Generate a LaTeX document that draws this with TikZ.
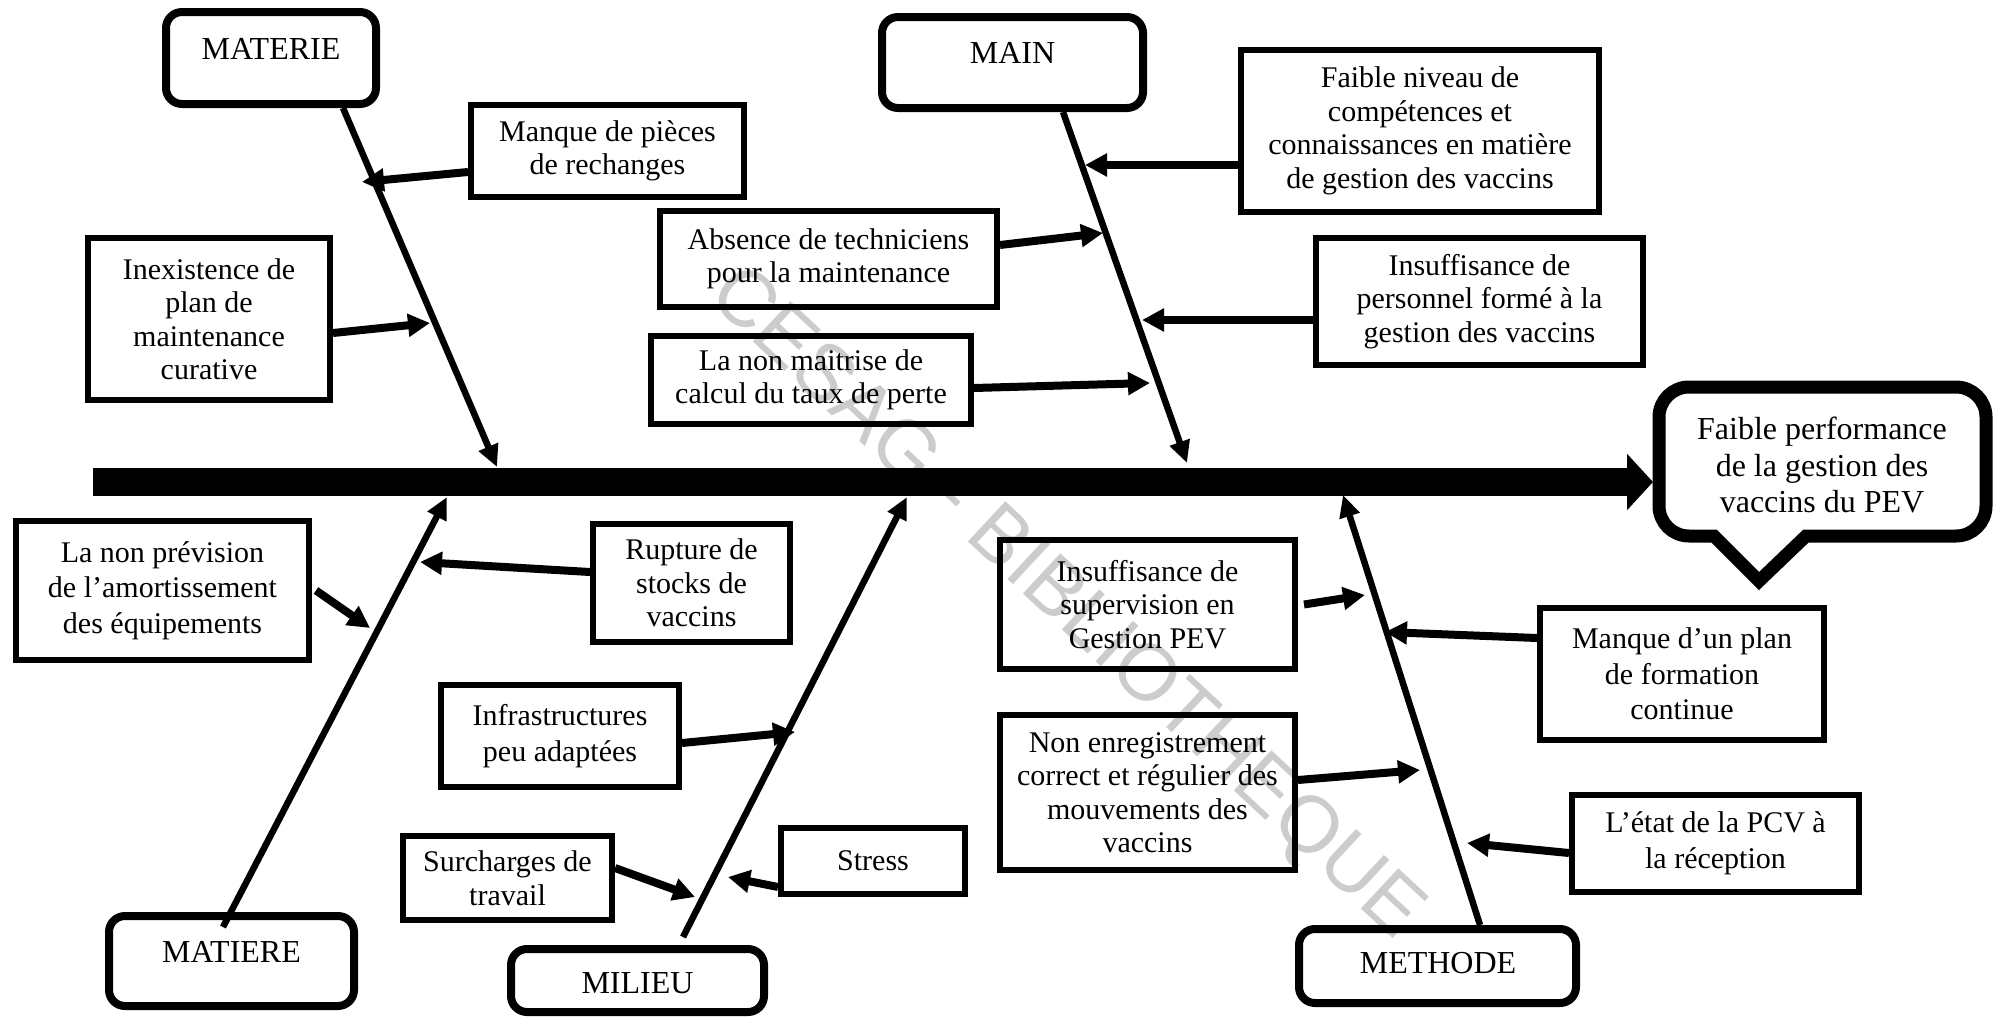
\documentclass[tikz,border=0pt]{standalone}
\usepackage{fontspec}
\setmainfont{Liberation Serif}
\newfontfamily\wmfont{Liberation Sans}
\usetikzlibrary{arrows.meta}
\newcommand\myCauseFont{\fontsize{15}{16.75}\selectfont}
\newcommand\myCauseFontB{\fontsize{15}{17.75}\selectfont}
\newcommand\myCatFont{\fontsize{16}{18}\selectfont}
\newcommand\myCalloutFont{\fontsize{16}{18.25}\selectfont}
\begin{document}
\begin{tikzpicture}[x=0.5pt, y=-0.5pt,
  causebox/.style={draw, line width=3pt, align=center, inner sep=0pt, font=\myCauseFont},
  catbox/.style={draw, line width=4pt, rounded corners=8pt, inner sep=0pt},
  cattext/.style={anchor=base, inner sep=0pt, font=\myCatFont},
  bone/.style={line width=3.25pt, -{Triangle[length=11pt,width=10pt]}},
  cause/.style={line width=4pt, -{Triangle[length=11pt,width=11pt]}},
  spine/.style={line width=14pt, -{Triangle[length=13pt,width=27.5pt]}},
  callout/.style={line width=6.5pt, line join=miter, fill=white},
  watermark/.style={text=black!20, font=\wmfont\fontsize{40}{48}\selectfont, rotate=-43}
]
\path[use as bounding box, fill=white] (0,0) rectangle (1993,1018);

% watermark
\node[watermark] (wm) at (1065,605) {CESAG - BIBLIOTHEQUE};

% category boxes
\node[catbox, minimum width=105pt, minimum height=46pt] (materie) at (271,58) {};
\node[cattext] (materieT) at (271,59) {MATERIE};
\node[catbox, minimum width=130.5pt, minimum height=45.5pt] (main) at (1012.5,62.5) {};
\node[cattext] (mainT) at (1012.5,63) {MAIN};
\node[catbox, minimum width=122.5pt, minimum height=45pt] (matiere) at (231.5,961) {};
\node[cattext] (matiereT) at (231.5,962) {MATIERE};
\node[catbox, minimum width=126.5pt, minimum height=31.5pt] (milieu) at (637.5,980.5) {};
\node[cattext] (milieuT) at (637.5,993) {MILIEU};
\node[catbox, minimum width=138.5pt, minimum height=37pt] (methode) at (1437.5,966) {};
\node[cattext] (methodeT) at (1438,973) {METHODE};

% cause boxes
\node[causebox, minimum width=136.5pt, minimum height=46pt] (manque) at (607.5,151) {Manque de pièces\\de rechanges};
\node[causebox, minimum width=121pt, minimum height=81pt] (inex) at (209,319) {Inexistence de\\plan de\\maintenance\\curative};
\node[causebox, minimum width=168.5pt, minimum height=48pt] (absence) at (828.5,259) {Absence de techniciens\\pour la maintenance};
\node[causebox, minimum width=160pt, minimum height=44pt] (maitrise) at (811,380) {La non maitrise de\\calcul du taux de perte};
\node[causebox, minimum width=179pt, minimum height=81pt] (faible) at (1420,131) {Faible niveau de\\compétences et\\connaissances en matière\\de gestion des vaccins};
\node[causebox, minimum width=163.5pt, minimum height=63.5pt] (persF) at (1479.5,301.5) {Insuffisance de\\personnel formé à la\\gestion des vaccins};
\node[causebox, minimum width=146.5pt, minimum height=69.5pt, font=\myCauseFontB] (prevision) at (162.5,590.5) {La non prévision\\de l’amortissement\\des équipements};
\node[causebox, minimum width=98.5pt, minimum height=59pt] (rupture) at (691.5,583) {Rupture de\\stocks de\\vaccins};
\node[causebox, minimum width=119pt, minimum height=51pt, font=\myCauseFontB] (infra) at (560,736) {Infrastructures\\peu adaptées};
\node[causebox, minimum width=104.5pt, minimum height=42pt] (surch) at (507.5,878) {Surcharges de\\travail};
\node[causebox, minimum width=92pt, minimum height=33pt] (stress) at (873,861) {Stress};
\node[causebox, minimum width=147.5pt, minimum height=64.5pt] (superv) at (1147.5,604.5) {Insuffisance de\\supervision en\\Gestion PEV};
\node[causebox, minimum width=147.5pt, minimum height=77.5pt] (enreg) at (1147.5,792.5) {Non enregistrement\\correct et régulier des\\mouvements des\\vaccins};
\node[causebox, minimum width=142pt, minimum height=66pt, font=\myCauseFontB] (plan) at (1682,674) {Manque d’un plan\\de formation\\continue};
\node[causebox, minimum width=143.5pt, minimum height=48.5pt, font=\myCauseFontB] (etat) at (1715.5,843.5) {L’état de la PCV à\\la réception};

% effect (callout)
\draw[callout] (1659,417) arc[start angle=180, end angle=90, radius=15pt]
  -- (1956,387) arc[start angle=90, end angle=0, radius=15pt]
  -- (1986,506) arc[start angle=0, end angle=-90, radius=15pt]
  -- (1806,536) -- (1759,581) -- (1714,536)
  -- (1689,536) arc[start angle=270, end angle=180, radius=15pt] -- cycle;
\node[align=center, inner sep=0pt, font=\myCalloutFont] (effect) at (1822,465) {Faible performance\\de la gestion des\\vaccins du PEV};

% spine
\coordinate (spL) at (93,482);
\coordinate (effIn) at (1653,482);
\draw[spine] (spL) -- (effIn);

% bone ends on the spine
\coordinate (bMaterie) at (497,467);
\coordinate (bMain) at (1187,463);
\coordinate (bMatiere) at (447,497);
\coordinate (bMilieu) at (907,497);
\coordinate (bMethode) at (1343,495);

\draw[bone] ([xshift=36pt]materie.south) -- (bMaterie);
\draw[bone] ([xshift=25.25pt]main.south) -- (bMain);
\draw[bone] ([xshift=-4.25pt,yshift=-7.5pt]matiere.north) -- (bMatiere);
\draw[bone] ([xshift=22.75pt,yshift=4pt]milieu.north) -- (bMilieu);
\draw[bone] ([xshift=21.25pt]methode.north) -- (bMethode);

% cause arrow tips on bones
\coordinate (t1) at (362,182);
\coordinate (t2) at (430,323);
\coordinate (t3) at (1103,233);
\coordinate (t4) at (1150,383);
\coordinate (t5) at (1085,165);
\coordinate (t6) at (1142,320);
\coordinate (t7) at (370,628);
\coordinate (t8) at (420,562);
\coordinate (t9) at (795,732);
\coordinate (t10) at (695,897);
\coordinate (t11) at (728,877);
\coordinate (t12) at (1365,595);
\coordinate (t13) at (1385,632);
\coordinate (t14) at (1420,770);
\coordinate (t15) at (1467,843);

\draw[cause] ([yshift=-10.5pt]manque.west) -- (t1);
\draw[cause] ([yshift=-7pt]inex.east) -- (t2);
\draw[cause] ([yshift=7pt]absence.east) -- (t3);
\draw[cause] ([yshift=-4pt]maitrise.east) -- (t4);
\draw[cause] ([yshift=-17pt]faible.west) -- (t5);
\draw[cause] ([yshift=-9.25pt]persF.west) -- (t6);
\draw[cause] ([xshift=2pt]prevision.east) -- (t7);
\draw[cause] ([yshift=5.5pt]rupture.west) -- (t8);
\draw[cause] ([yshift=-3.5pt]infra.east) -- (t9);
\draw[cause] ([yshift=5pt]surch.east) -- (t10);
\draw[cause] ([yshift=-13pt]stress.west) -- (t11);
\draw[cause] ([xshift=3pt]superv.east) -- (t12);
\draw[cause] ([yshift=18pt]plan.west) -- (t13);
\draw[cause] ([yshift=6.25pt]enreg.east) -- (t14);
\draw[cause] ([yshift=-4.75pt]etat.west) -- (t15);
\end{tikzpicture}
\end{document}
